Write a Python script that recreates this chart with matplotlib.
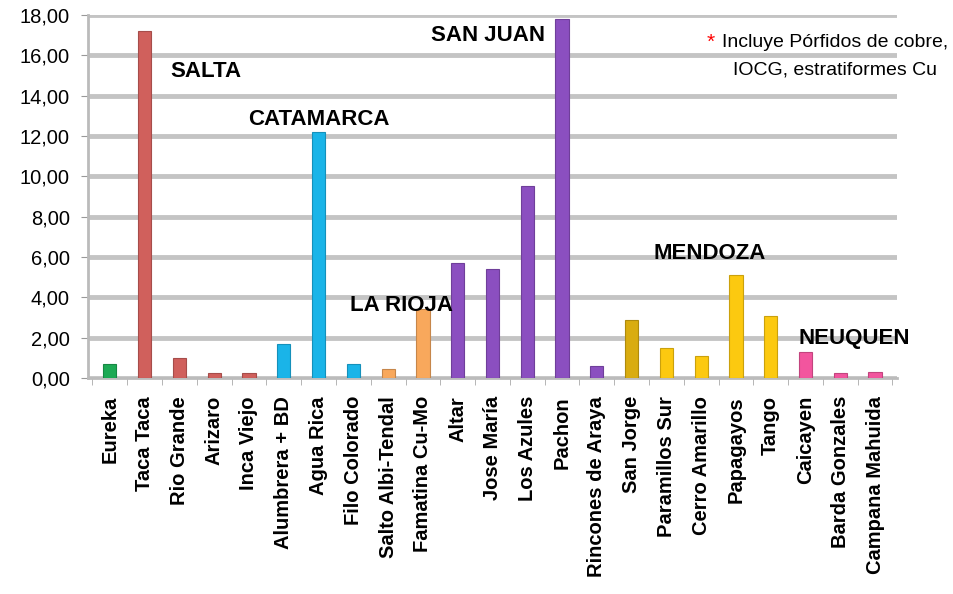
import matplotlib.pyplot as plt
import numpy as np

plt.rcParams['font.family'] = ['Liberation Sans', 'DejaVu Sans']

# datos
proyectos = ["Eureka", "Taca Taca", "Rio Grande", "Arizaro", "Inca Viejo",
             "Alumbrera + BD", "Agua Rica", "Filo Colorado", "Salto Albi-Tendal",
             "Famatina Cu-Mo", "Altar", "Jose María", "Los Azules", "Pachon",
             "Rincones de Araya", "San Jorge", "Paramillos Sur", "Cerro Amarillo",
             "Papagayos", "Tango", "Caicayen", "Barda Gonzales", "Campana Mahuida"]
valores = [0.72, 17.2, 1.0, 0.25, 0.25,
           1.7, 12.2, 0.72, 0.45,
           3.4, 5.7, 5.4, 9.5, 17.8,
           0.6, 2.9, 1.5, 1.1,
           5.1, 3.1, 1.3, 0.25, 0.3]
colores = ["#1daa55",
           "#d0605c", "#d0605c", "#d0605c", "#d0605c",
           "#1ab4e8", "#1ab4e8", "#1ab4e8",
           "#f8a85c", "#f8a85c",
           "#8b4fc0", "#8b4fc0", "#8b4fc0", "#8b4fc0", "#8b4fc0",
           "#d9ac10", "#fcc910", "#fcc910", "#fcc910", "#fcc910",
           "#f2559e", "#f2559e", "#f2559e"]
yticks = [0, 2, 4, 6, 8, 10, 12, 14, 16, 18]

fig = plt.figure(figsize=(9.54, 5.94), dpi=100)
ax = fig.add_axes([0.0922, 0.3636, 0.848, 0.611])

x = np.arange(len(proyectos))

# lineas de grilla gruesas (estilo excel 3d)
for v in yticks:
    ax.axhline(v, color="#c4c4c4", lw=3.5, zorder=0)

bordes = [tuple(np.clip(np.array(plt.matplotlib.colors.to_rgb(c)) * 0.8, 0, 1)) for c in colores]
ax.bar(x, valores, width=0.38, color=colores, edgecolor=bordes, linewidth=0.8, zorder=3)

ax.set_xlim(-0.63, len(proyectos) - 0.37)
ax.set_ylim(0, 18)

ax.set_yticks(yticks)
ax.set_yticklabels([("%.2f" % v).replace(".", ",") for v in yticks])
ax.tick_params(axis="y", labelsize=14.5, length=5, color="#999999", pad=8)

ax.set_xticks(x)
ax.set_xticklabels(proyectos, rotation=90, fontsize=14.5, fontweight="bold")
ax.tick_params(axis="x", length=0, pad=13)
ax.set_xticks(np.arange(-0.5, len(proyectos), 1), minor=True)
ax.tick_params(axis="x", which="minor", length=5, color="#aaaaaa", direction="out")

for s in ["top", "right"]:
    ax.spines[s].set_visible(False)
ax.spines["left"].set_color("#bbbbbb")
ax.spines["left"].set_linewidth(2)
ax.spines["bottom"].set_color("#bbbbbb")
ax.spines["bottom"].set_linewidth(2)

# provincias
etiquetas = [("SALTA", 1.73, 15.2), ("CATAMARCA", 3.97, 12.8), ("LA RIOJA", 6.9, 3.62),
             ("SAN JUAN", 9.23, 17.0), ("MENDOZA", 15.62, 6.2), ("NEUQUEN", 19.79, 1.98)]
for txt, px, py in etiquetas:
    ax.text(px, py, txt, fontsize=16, fontweight="bold", ha="left", va="center", zorder=5)

# nota
fig.text(0.741, 0.928, "*", color="red", fontsize=15, ha="left", va="center")
fig.text(0.757, 0.928, "Incluye Pórfidos de cobre,", fontsize=14, ha="left", va="center")
fig.text(0.875, 0.882, "IOCG, estratiformes Cu", fontsize=14, ha="center", va="center")

fig.savefig("out.png", dpi=100)
